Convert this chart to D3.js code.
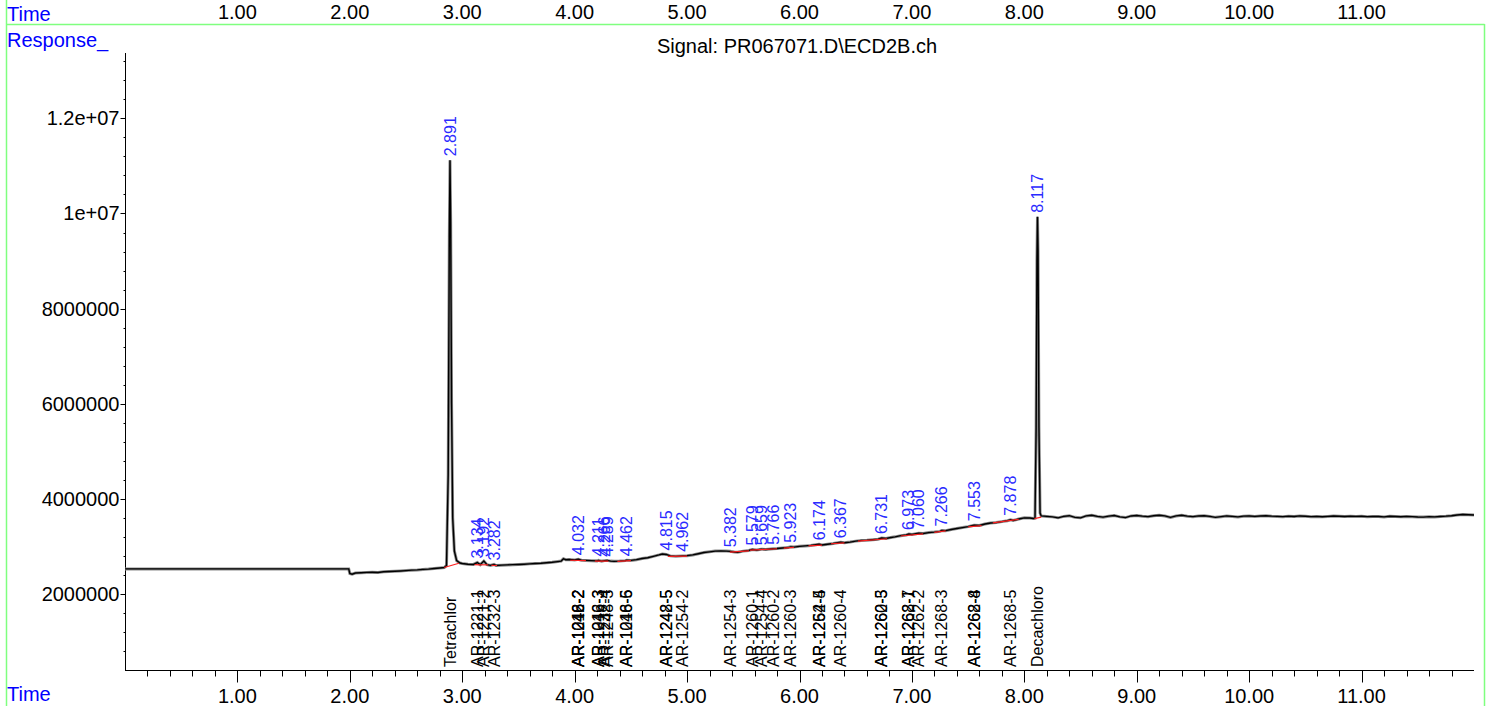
<!DOCTYPE html>
<html>
<head>
<meta charset="utf-8">
<script src="https://cdn.jsdelivr.net/npm/d3@7"></script>
<style>
  body { margin: 0; background: #fff; }
  svg { display: block; font-family: "Liberation Sans", Arial, sans-serif; }
</style>
</head>
<body>
<div id="chart"></div>
<script>
// trace: [time (min), response]
const trace = [
  [0, 2526000], [1.99, 2526000], [2.0, 2430000], [2.02, 2415000], [2.05, 2440000], [2.1, 2445000],
  [2.15, 2452000], [2.2, 2455000], [2.25, 2450000], [2.3, 2465000], [2.35, 2470000], [2.4, 2476000],
  [2.45, 2482000], [2.5, 2490000], [2.55, 2500000], [2.6, 2505000], [2.65, 2515000], [2.7, 2522000],
  [2.75, 2535000], [2.8, 2545000], [2.84, 2555000],
  [2.86, 2600000], [2.875, 4500000], [2.885, 9500000], [2.891, 11120000], [2.897, 9800000],
  [2.905, 6000000], [2.915, 3600000], [2.93, 2900000], [2.95, 2700000], [2.98, 2650000],
  [3.0, 2640000], [3.05, 2625000], [3.1, 2620000], [3.134, 2660000], [3.16, 2615000], [3.192, 2690000],
  [3.22, 2615000], [3.25, 2600000], [3.282, 2620000], [3.3, 2598000], [3.35, 2605000], [3.4, 2610000],
  [3.45, 2615000], [3.5, 2620000], [3.55, 2625000], [3.6, 2632000], [3.65, 2640000], [3.7, 2645000],
  [3.75, 2655000], [3.8, 2665000], [3.85, 2680000], [3.88, 2690000], [3.9, 2740000], [3.92, 2720000],
  [3.95, 2725000], [4.0, 2715000], [4.032, 2730000], [4.06, 2710000], [4.1, 2705000], [4.15, 2700000],
  [4.2, 2695000], [4.211, 2705000], [4.24, 2690000], [4.266, 2700000], [4.289, 2705000], [4.32, 2690000],
  [4.35, 2685000], [4.4, 2690000], [4.45, 2700000], [4.462, 2710000], [4.5, 2705000], [4.55, 2720000],
  [4.6, 2745000], [4.65, 2760000], [4.7, 2790000], [4.75, 2820000], [4.78, 2840000], [4.815, 2830000],
  [4.85, 2800000], [4.9, 2790000], [4.962, 2800000], [5.0, 2805000], [5.05, 2820000], [5.1, 2845000],
  [5.15, 2870000], [5.2, 2885000], [5.25, 2900000], [5.3, 2905000], [5.35, 2900000], [5.382, 2895000],
  [5.42, 2880000], [5.45, 2875000], [5.5, 2900000], [5.55, 2915000], [5.579, 2935000], [5.62, 2925000],
  [5.659, 2940000], [5.7, 2935000], [5.766, 2950000], [5.8, 2955000], [5.85, 2965000], [5.9, 2975000],
  [5.923, 2990000], [5.95, 2985000], [6.0, 3000000], [6.05, 3010000], [6.1, 3020000], [6.174, 3045000],
  [6.2, 3030000], [6.25, 3045000], [6.3, 3060000], [6.367, 3085000], [6.4, 3075000], [6.45, 3090000],
  [6.5, 3110000], [6.55, 3125000], [6.6, 3130000], [6.65, 3140000], [6.7, 3150000], [6.731, 3175000],
  [6.77, 3165000], [6.8, 3180000], [6.85, 3200000], [6.9, 3225000], [6.95, 3240000], [6.973, 3260000],
  [7.0, 3250000], [7.06, 3275000], [7.1, 3270000], [7.15, 3290000], [7.2, 3300000], [7.25, 3315000],
  [7.266, 3335000], [7.3, 3330000], [7.35, 3355000], [7.4, 3375000], [7.45, 3395000], [7.5, 3415000],
  [7.553, 3445000], [7.6, 3440000], [7.65, 3470000], [7.7, 3490000], [7.75, 3500000], [7.8, 3520000],
  [7.85, 3540000], [7.878, 3560000], [7.9, 3545000], [7.95, 3575000], [8.0, 3600000], [8.05, 3595000],
  [8.08, 3585000], [8.095, 3590000],
  [8.105, 5500000], [8.112, 9000000], [8.117, 9930000], [8.122, 9200000], [8.13, 5500000],
  [8.14, 3700000], [8.15, 3640000],
  [8.2, 3630000], [8.25, 3620000], [8.3, 3600000], [8.35, 3630000], [8.4, 3645000], [8.45, 3610000],
  [8.5, 3600000], [8.55, 3640000], [8.6, 3655000], [8.65, 3630000], [8.7, 3615000], [8.75, 3635000],
  [8.8, 3650000], [8.85, 3620000], [8.9, 3605000], [8.95, 3640000], [9.0, 3650000], [9.05, 3635000],
  [9.1, 3625000], [9.15, 3645000], [9.2, 3655000], [9.25, 3640000], [9.3, 3610000], [9.35, 3640000],
  [9.4, 3655000], [9.45, 3635000], [9.5, 3625000], [9.55, 3640000], [9.6, 3645000], [9.65, 3630000],
  [9.7, 3610000], [9.75, 3625000], [9.8, 3640000], [9.85, 3630000], [9.9, 3620000], [9.95, 3635000],
  [10.0, 3640000], [10.05, 3630000], [10.1, 3640000], [10.15, 3645000], [10.2, 3635000], [10.25, 3630000],
  [10.3, 3625000], [10.35, 3635000], [10.4, 3628000], [10.45, 3640000], [10.5, 3632000], [10.55, 3625000],
  [10.6, 3630000], [10.65, 3622000], [10.7, 3630000], [10.75, 3638000], [10.8, 3632000], [10.85, 3628000],
  [10.9, 3635000], [10.95, 3630000], [11.0, 3632000], [11.05, 3625000], [11.1, 3630000], [11.15, 3628000],
  [11.2, 3620000], [11.25, 3632000], [11.3, 3628000], [11.35, 3622000], [11.4, 3630000], [11.45, 3625000],
  [11.5, 3618000], [11.55, 3615000], [11.6, 3625000], [11.65, 3620000], [11.7, 3628000], [11.75, 3635000],
  [11.8, 3645000], [11.85, 3660000], [11.9, 3670000], [11.95, 3665000], [12.0, 3660000]
];

// integrated peaks: retention time and apex response
const peakTimes = [2.891, 3.134, 3.192, 3.282, 4.032, 4.211, 4.266, 4.289, 4.462, 4.815, 4.962, 5.382,
  5.579, 5.659, 5.766, 5.923, 6.174, 6.367, 6.731, 6.973, 7.060, 7.266, 7.553, 7.878, 8.117];
const peakApex = [11120000, 2660000, 2690000, 2620000, 2730000, 2705000, 2700000, 2705000, 2710000,
  2830000, 2800000, 2895000, 2935000, 2940000, 2950000, 2990000, 3045000, 3085000, 3175000, 3260000,
  3275000, 3335000, 3445000, 3560000, 9930000];

// red integration baselines: [t start, response start, t end, response end]
const integrationLines = [
  [2.84, 2555000, 2.97, 2645000], [3.11, 2618000, 3.16, 2612000], [3.16, 2612000, 3.23, 2612000],
  [3.26, 2600000, 3.31, 2598000], [3.96, 2708000, 4.1, 2702000], [4.18, 2690000, 4.3, 2688000],
  [4.38, 2683000, 4.5, 2698000], [4.83, 2790000, 5.0, 2795000], [5.38, 2878000, 5.55, 2905000],
  [5.56, 2920000, 5.8, 2950000], [5.86, 2962000, 5.95, 2978000], [6.08, 3012000, 6.2, 3028000],
  [6.28, 3055000, 6.4, 3072000], [6.52, 3112000, 6.78, 3160000], [6.9, 3218000, 7.1, 3262000],
  [7.2, 3295000, 7.3, 3325000], [7.5, 3410000, 7.62, 3438000], [7.72, 3492000, 7.95, 3568000],
  [8.09, 3585000, 8.15, 3615000]
];

// compound names under the axis
const compoundTimes = [2.891, 3.134, 3.192, 3.282, 4.032, 4.032, 4.032, 4.211, 4.211, 4.266, 4.289,
  4.462, 4.462, 4.815, 4.815, 4.962, 5.382, 5.579, 5.659, 5.766, 5.923, 6.174, 6.174, 6.367, 6.731,
  6.731, 6.973, 6.973, 7.060, 7.266, 7.553, 7.553, 7.878, 8.117];
const compoundNames = ["Tetrachlor", "AR-1221-1", "AR-1221-2", "AR-1232-3", "AR-1016-2", "AR-1242-2",
  "AR-1248-2", "AR-1016-3", "AR-1242-3", "AR-1232-4", "AR-1248-3", "AR-1016-5", "AR-1248-6",
  "AR-1248-5", "AR-1242-5", "AR-1254-2", "AR-1254-3", "AR-1260-1", "AR-1254-4", "AR-1260-2",
  "AR-1260-3", "AR-1262-4", "AR-1254-5", "AR-1260-4", "AR-1260-5", "AR-1262-3", "AR-1268-1",
  "AR-1262-7", "AR-1262-2", "AR-1268-3", "AR-1262-8", "AR-1268-4", "AR-1268-5", "Decachloro"];

const yTickValues = [2000000, 4000000, 6000000, 8000000, 10000000, 12000000];
const yTickLabels = ["2000000", "4000000", "6000000", "8000000", "1e+07", "1.2e+07"];
const xTickValues = [1, 2, 3, 4, 5, 6, 7, 8, 9, 10, 11];

const W = 1489, H = 706;
const green = "#7fff7f", blue = "#0000ff";

const svg = d3.select("#chart").append("svg")
  .attr("width", W)
  .attr("height", H);

const x = d3.scaleLinear().domain([0, 12]).range([125, 1474]);
const y = d3.scaleLinear().domain([400000, 13375000]).range([670, 53]);

// green frame
svg.append("line").attr("x1", 6.5).attr("x2", 6.5).attr("y1", 0).attr("y2", H)
  .attr("stroke", green).attr("stroke-width", 1.5);
svg.append("line").attr("x1", 6).attr("x2", 1484.5).attr("y1", 24.5).attr("y2", 24.5)
  .attr("stroke", green).attr("stroke-width", 1.5);
svg.append("line").attr("x1", 1484.5).attr("x2", 1484.5).attr("y1", 24).attr("y2", H)
  .attr("stroke", green).attr("stroke-width", 1.5);

// top time ruler
svg.append("text").attr("x", 7).attr("y", 21).attr("fill", blue).attr("font-size", 20).text("Time");
svg.selectAll(".top-label")
  .data(xTickValues)
  .join("text")
  .attr("class", "top-label")
  .attr("x", d => x(d))
  .attr("y", 19)
  .attr("text-anchor", "middle")
  .attr("font-size", 20)
  .text(d => d3.format(".2f")(d));

svg.append("text").attr("x", 7).attr("y", 47).attr("fill", blue).attr("font-size", 20).text("Response_");
svg.append("text").attr("x", 797).attr("y", 53).attr("text-anchor", "middle").attr("font-size", 20)
  .text("Signal: PR067071.D\\ECD2B.ch");

// y axis
const yAxis = svg.append("g").attr("transform", "translate(125.5,0)");
yAxis.append("line").attr("y1", y.range()[1]).attr("y2", y.range()[0]).attr("stroke", "#000");
yAxis.selectAll(".ymin")
  .data(d3.range(800000, 13375000, 400000))
  .join("line")
  .attr("class", "ymin")
  .attr("x1", -2).attr("x2", 0)
  .attr("y1", d => Math.round(y(d)) + 0.5)
  .attr("y2", d => Math.round(y(d)) + 0.5)
  .attr("stroke", "#000");
yAxis.selectAll(".ymaj")
  .data(yTickValues)
  .join("line")
  .attr("class", "ymaj")
  .attr("x1", -5).attr("x2", 0)
  .attr("y1", d => Math.round(y(d)) + 0.5)
  .attr("y2", d => Math.round(y(d)) + 0.5)
  .attr("stroke", "#000");
yAxis.selectAll(".ylab")
  .data(yTickValues)
  .join("text")
  .attr("class", "ylab")
  .attr("x", -6)
  .attr("y", d => y(d))
  .attr("dy", "0.35em")
  .attr("text-anchor", "end")
  .attr("font-size", 20)
  .text((d, i) => yTickLabels[i]);

// x axis
const xAxis = svg.append("g").attr("transform", "translate(0,670.5)");
xAxis.append("line").attr("x1", x.range()[0]).attr("x2", x.range()[1]).attr("stroke", "#000");
xAxis.selectAll(".xmin")
  .data(d3.range(1, 60).map(i => i / 5))
  .join("line")
  .attr("class", "xmin")
  .attr("x1", d => Math.round(x(d)) + 0.5)
  .attr("x2", d => Math.round(x(d)) + 0.5)
  .attr("y1", 0).attr("y2", d => Number.isInteger(Math.round(d * 1000) / 1000) ? 12 : 6)
  .attr("stroke", "#000");
xAxis.selectAll(".xlab")
  .data(xTickValues)
  .join("text")
  .attr("class", "xlab")
  .attr("x", d => x(d))
  .attr("y", 32)
  .attr("text-anchor", "middle")
  .attr("font-size", 20)
  .text(d => d3.format(".2f")(d));
svg.append("text").attr("x", 7).attr("y", 701).attr("fill", blue).attr("font-size", 20).text("Time");

// compound names
svg.selectAll(".compound")
  .data(compoundNames)
  .join("text")
  .attr("class", "compound")
  .attr("transform", (d, i) => `translate(${x(compoundTimes[i])},667) rotate(-90)`)
  .attr("dy", "0.35em")
  .attr("font-size", 16)
  .attr("fill", "#000")
  .text(d => d);

// signal trace, grey halo under a black line
const line = d3.line().x(d => x(d[0])).y(d => y(d[1]));
svg.append("path")
  .datum(trace)
  .attr("fill", "none")
  .attr("stroke", "#8a8a8a")
  .attr("stroke-width", 3)
  .attr("d", line);
svg.append("path")
  .datum(trace)
  .attr("fill", "none")
  .attr("stroke", "#000")
  .attr("stroke-width", 1.4)
  .attr("d", line);

// integration baselines
svg.selectAll(".base")
  .data(integrationLines)
  .join("line")
  .attr("class", "base")
  .attr("x1", d => x(d[0])).attr("y1", d => y(d[1]))
  .attr("x2", d => x(d[2])).attr("y2", d => y(d[3]))
  .attr("stroke", "#ff2020")
  .attr("stroke-width", 1.2);

// retention time labels
svg.selectAll(".rt")
  .data(peakTimes)
  .join("text")
  .attr("class", "rt")
  .attr("transform", (d, i) => `translate(${x(d)},${y(peakApex[i]) - 4}) rotate(-90)`)
  .attr("dy", "0.35em")
  .attr("font-size", 16)
  .attr("fill", "#2a2aff")
  .text(d => d3.format(".3f")(d));
</script>
</body>
</html>
